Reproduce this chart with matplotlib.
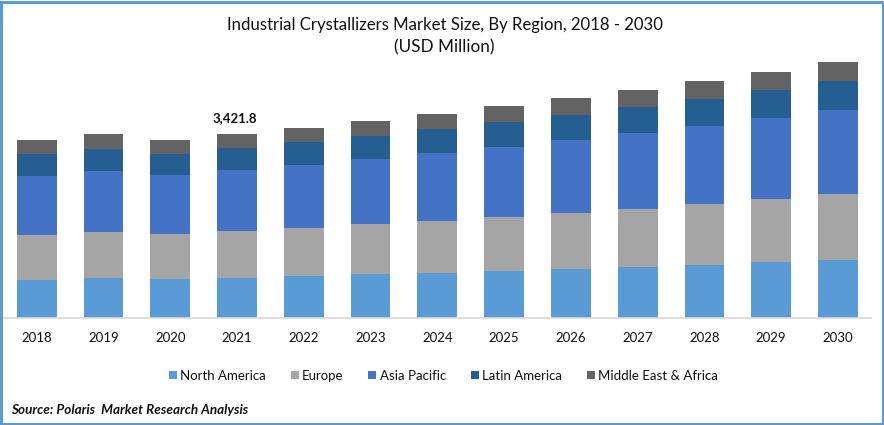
import matplotlib
matplotlib.use("Agg")
import matplotlib.pyplot as plt
from matplotlib.patches import Rectangle
import numpy as np

years = ["2018", "2019", "2020", "2021", "2022", "2023", "2024", "2025", "2026", "2027", "2028", "2029", "2030"]

north_america = [706, 743, 724, 743, 780, 817, 836, 873, 910, 947, 984, 1040, 1077]
europe = [836, 854, 836, 873, 891, 928, 966, 1003, 1040, 1077, 1133, 1170, 1226]
asia_pacific = [1096, 1133, 1096, 1133, 1170, 1207, 1263, 1300, 1356, 1411, 1449, 1504, 1560]
latin_america = [409, 409, 390, 409, 427, 427, 446, 464, 464, 483, 501, 520, 539]
middle_east_africa = [260, 279, 260, 264, 260, 279, 279, 297, 316, 316, 334, 334, 353]

series = [
    ("North America", north_america, "#5B9BD5"),
    ("Europe", europe, "#A5A5A5"),
    ("Asia Pacific", asia_pacific, "#4472C4"),
    ("Latin America", latin_america, "#255E91"),
    ("Middle East & Africa", middle_east_africa, "#636363"),
]

W, H = 884, 425
FONT = "Lato"

fig = plt.figure(figsize=(W / 100, H / 100), dpi=100)
ax = fig.add_axes([3 / W, 1 - 318 / H, 868 / W, 288 / H])

x = np.arange(len(years))
bottom = np.zeros(len(years))
for name, values, color in series:
    ax.bar(x, values, 0.595, bottom=bottom, color=color, label=name, linewidth=0)
    bottom += np.array(values)

ax.set_xlim(-0.505, 12.495)
ax.set_ylim(0, 5350)
ax.set_yticks([])
ax.set_xticks(x)
ax.set_xticklabels(years, fontname=FONT, fontsize=9.5, color="#111111")
ax.tick_params(axis="x", length=0, pad=10)
for side in ["top", "right", "left"]:
    ax.spines[side].set_visible(False)
ax.spines["bottom"].set_color("#D9D9D9")
ax.spines["bottom"].set_linewidth(1.2)

ax.annotate("3,421.8", (3, bottom[3]), xytext=(-1.5, 7), textcoords="offset points",
            ha="center", va="bottom", fontname=FONT, fontsize=9.5, fontweight="bold", color="#111111")

fig.text(444.5 / W, 1 - 25 / H, "Industrial Crystallizers Market Size, By Region, 2018 - 2030",
         ha="center", va="center", fontname=FONT, fontsize=12.1, color="#111111")
fig.text(444.5 / W, 1 - 47 / H, "(USD Million)",
         ha="center", va="center", fontname=FONT, fontsize=12.3, color="#111111")

ax.legend(loc="center", bbox_to_anchor=(443.5 / W, 1 - 375.5 / H), bbox_transform=fig.transFigure,
          ncol=5, frameon=False, handlelength=0.6, handleheight=0.6, handletextpad=0.25,
          columnspacing=1.9, prop={"family": FONT, "size": 9.5}, labelcolor="#111111")

fig.text(11 / W, 1 - 409.5 / H, "Source: Polaris  Market Research Analysis",
         ha="left", va="center", fontname=FONT, fontsize=9.7, fontweight="bold", fontstyle="italic", color="#111111")

# blue frame round the whole picture
fig.add_artist(Rectangle((1.25 / W, 1 / H), (W - 2.5) / W, (H - 2.5) / H, transform=fig.transFigure,
                         fill=False, edgecolor="#5B9BD5", linewidth=2.2))

fig.savefig("out.png", dpi=100)
